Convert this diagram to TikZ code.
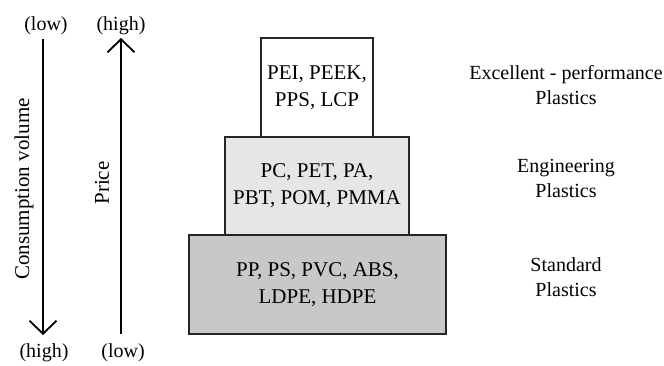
\documentclass[tikz,border=0pt]{standalone}
\usepackage{fontspec}
\setmainfont{Liberation Serif}
\usetikzlibrary{arrows.meta}
\definecolor{midgray}{HTML}{E6E6E6}
\definecolor{botgray}{HTML}{C8C8C8}
\begin{document}
\begin{tikzpicture}[x=1pt,y=-1pt,
  tier/.style={draw=black!85, line width=1.4pt, align=center, inner sep=0pt,
    font=\fontsize{21}{27}\selectfont},
  lbl/.style={align=center, inner sep=0pt, font=\fontsize{20}{25}\selectfont},
  axislbl/.style={inner sep=0pt, font=\fontsize{20}{24}\selectfont},
  axis/.style={line width=1.8pt, -{Straight Barb[length=13pt,width=27pt]}}]
\useasboundingbox (0,0) rectangle (664,365);
% tiers
\node[tier, fill=botgray, minimum width=257pt, minimum height=99pt] (std) at (317.5,284.5)
  {PP, PS, PVC, ABS,\\LDPE, HDPE};
\node[tier, fill=midgray, minimum width=184pt, minimum height=98pt] (eng) at (317,186)
  {PC, PET, PA,\\PBT, POM, PMMA};
\node[tier, fill=white, minimum width=112pt, minimum height=99pt] (exc) at (317,87.5)
  {PEI, PEEK,\\PPS, LCP};
% right labels
\node[lbl] (lexc) at (566,85) {Excellent - performance\\Plastics};
\node[lbl] (leng) at (566,178) {Engineering\\Plastics};
\node[lbl] (lstd) at (566,277) {Standard\\Plastics};
% axes
\coordinate (cTop) at (43,39);
\coordinate (cBot) at (43,335);
\coordinate (pBot) at (121,334);
\coordinate (pTop) at (121,38);
\draw[axis] (cTop) -- (cBot);
\draw[axis] (pBot) -- (pTop);
\node[axislbl, anchor=base] (cLow) at (46,30) {(low)};
\node[axislbl, anchor=base] (pHigh) at (121,30) {(high)};
\node[axislbl, anchor=base] (cHigh) at (44,357) {(high)};
\node[axislbl, anchor=base] (pLow) at (123,357) {(low)};
\node[axislbl, rotate=90, font=\fontsize{21}{24}\selectfont] (cons) at (24,189) {Consumption volume};
\node[axislbl, rotate=90, font=\fontsize{21}{24}\selectfont] (price) at (102,183) {Price};
\end{tikzpicture}
\end{document}
